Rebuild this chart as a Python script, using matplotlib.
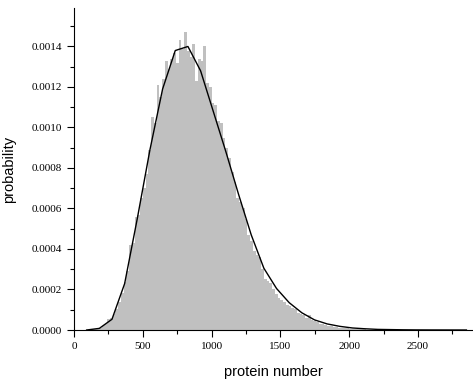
import matplotlib

matplotlib.use("Agg")

import matplotlib.pyplot as plt
import numpy as np
from matplotlib.ticker import MultipleLocator, FormatStrFormatter

# histogram of sampled protein numbers, 20-wide bins starting at 100 (probability, x1e-4)
bin_start = 100
bin_width = 20
hist_probs = [
    0.00, 0.02, 0.03, 0.05, 0.10, 0.22, 0.30, 0.55, 0.60, 0.80,
    1.05, 1.40, 1.85, 2.35, 2.90, 4.20, 4.30, 5.60, 5.70, 6.50,
    7.00, 7.70, 8.90, 10.5, 10.2, 12.1, 11.5, 12.4, 13.3, 12.9,
    13.4, 13.7, 13.2, 14.3, 13.9, 14.7, 13.8, 13.5, 14.1, 12.3,
    13.4, 13.3, 14.0, 12.2, 12.0, 11.2, 11.1, 10.3, 10.2, 9.50,
    9.00, 8.50, 7.80, 7.30, 6.50, 6.30, 6.00, 5.50, 4.70, 4.40,
    3.90, 3.70, 3.60, 3.00, 2.50, 2.40, 2.30, 2.00, 1.80, 1.60,
    1.50, 1.40, 1.25, 1.20, 1.10, 1.05, 0.85, 0.80, 0.72, 0.60,
    0.75, 0.50, 0.45, 0.38, 0.32, 0.30, 0.25, 0.22, 0.18, 0.17,
    0.14, 0.12, 0.11, 0.09, 0.08, 0.06, 0.05, 0.05, 0.04, 0.03,
    0.03, 0.02, 0.02, 0.015, 0.01, 0.01, 0.01, 0.005, 0.005, 0.004,
]

# analytic distribution sampled on a coarse grid (probability, x1e-4)
curve_x = [92, 184, 276, 368, 460, 552, 644, 736, 828, 920, 1012, 1104,
           1196, 1288, 1380, 1472, 1564, 1656, 1748, 1840, 1932, 2024,
           2116, 2208, 2300, 2392, 2484, 2576, 2668, 2760, 2852]
curve_y = [0.0, 0.08, 0.53, 2.29, 5.50, 8.90, 11.9, 13.8, 14.0, 12.8, 10.8, 8.80,
           6.70, 4.70, 3.05, 2.05, 1.35, 0.85, 0.50, 0.30, 0.18, 0.10,
           0.06, 0.03, 0.02, 0.01, 0.005, 0.003, 0.002, 0.001, 0.0]

hist = np.asarray(hist_probs) * 1e-4
edges = bin_start + bin_width * np.arange(len(hist) + 1)
cy = np.asarray(curve_y) * 1e-4

fig = plt.figure(figsize=(4.73, 3.85), dpi=100)
ax = fig.add_axes([74 / 473, 55 / 385, 399 / 473, 322 / 385])

ax.stairs(hist, edges, fill=True, color="#c0c0c0", linewidth=0)
ax.plot(curve_x, cy, color="black", linewidth=1.0)

ax.set_xlim(0, 2900)
ax.set_ylim(0, 0.00159)
for side in ("top", "right"):
    ax.spines[side].set_visible(False)
ax.spines["left"].set_linewidth(0.8)
ax.spines["bottom"].set_linewidth(0.8)

ax.xaxis.set_major_locator(MultipleLocator(500))
ax.xaxis.set_minor_locator(MultipleLocator(250))
ax.yaxis.set_major_locator(MultipleLocator(0.0002))
ax.yaxis.set_minor_locator(MultipleLocator(0.0001))
ax.yaxis.set_major_formatter(FormatStrFormatter("%.4f"))
ax.tick_params(which="major", direction="out", length=5, width=0.8, labelsize=8)
ax.tick_params(which="minor", direction="out", length=3, width=0.8)
for lab in ax.get_xticklabels() + ax.get_yticklabels():
    lab.set_family("Liberation Serif")

ax.set_xlabel("protein number", family="Liberation Sans", fontsize=10.5, labelpad=10)
ax.set_ylabel("probability", family="Liberation Sans", fontsize=10.5, labelpad=11)

fig.savefig("out.png", dpi=100)
